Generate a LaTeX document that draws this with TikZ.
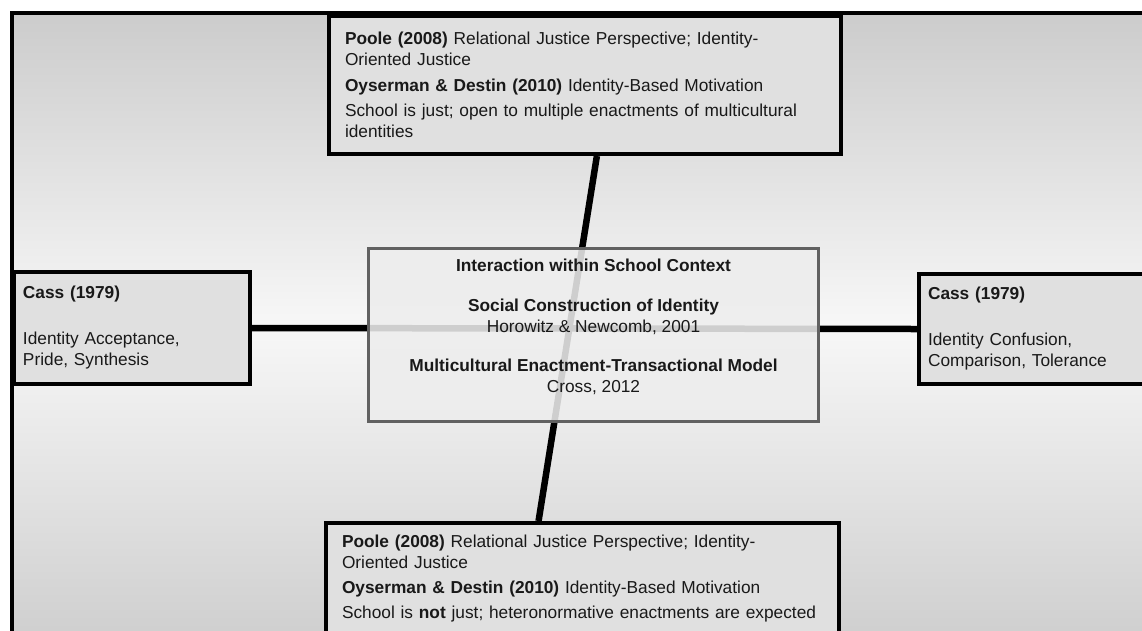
\documentclass[tikz,border=0pt]{standalone}
\usepackage{fontspec}
\setmainfont{Liberation Sans}
\usetikzlibrary{calc}
\begin{document}
\begin{tikzpicture}[x=1pt,y=-1pt,
  txt/.style={font=\fontsize{17.3}{21}\selectfont, text=black!90},
  box/.style={txt, draw=black, line width=4pt, fill=black!12, anchor=north west, align=left, inner ysep=0pt},
  link/.style={line width=6.5pt, draw=black},
  centerbox/.style={txt, draw=black!62, line width=3pt, fill=black!7, fill opacity=0.87, text opacity=1, anchor=north west, align=center, inner ysep=0pt}
]
\useasboundingbox (0,0) rectangle (1142,630);
\shade[top color=black!20, bottom color=black!19, middle color=black!3] (12,13) rectangle (1150,640);
\draw[line width=4pt] (12,640) -- (12,13) -- (1150,13);

\node[box, minimum width=512pt, minimum height=138pt, text width=480pt, inner xsep=16pt] (T) at (327,14)
 {\textbf{Poole (2008)} Relational Justice Perspective; Identity-\\Oriented Justice\\[5pt]\textbf{Oyserman \& Destin (2010)} Identity-Based Motivation\\[4pt]School is just; open to multiple enactments of multicultural\\identities};

\node[box, minimum width=236pt, minimum height=112pt, text width=218pt, inner xsep=9pt] (L) at (12,270)
 {\textbf{Cass (1979)}\\[25pt]Identity Acceptance,\\Pride, Synthesis};

\node[box, minimum width=240pt, minimum height=110pt, text width=222pt, inner xsep=9pt] (R) at (917,272)
 {\textbf{Cass (1979)}\\[25pt]Identity Confusion,\\Comparison, Tolerance};

\node[box, minimum width=513pt, minimum height=112pt, text width=481pt, inner xsep=16pt] (B) at (324,521)
 {\textbf{Poole (2008)} Relational Justice Perspective; Identity-\\Oriented Justice\\[4pt]\textbf{Oyserman \& Destin (2010)} Identity-Based Motivation\\[4pt]School is \textbf{not} just; heteronormative enactments are expected};

\draw[link] (L.east) -- (R.west);
\draw[link] ($(T.south west)!0.523!(T.south east)$) -- ($(B.north west)!0.415!(B.north east)$);

\node[centerbox, minimum width=450pt, minimum height=173pt, text depth=18pt] (C) at (367,247)
 {\textbf{Interaction within School Context}\\[19pt]\textbf{Social Construction of Identity}\\Horowitz \& Newcomb, 2001\\[18pt]\textbf{Multicultural Enactment-Transactional Model}\\Cross, 2012};
\end{tikzpicture}
\end{document}
